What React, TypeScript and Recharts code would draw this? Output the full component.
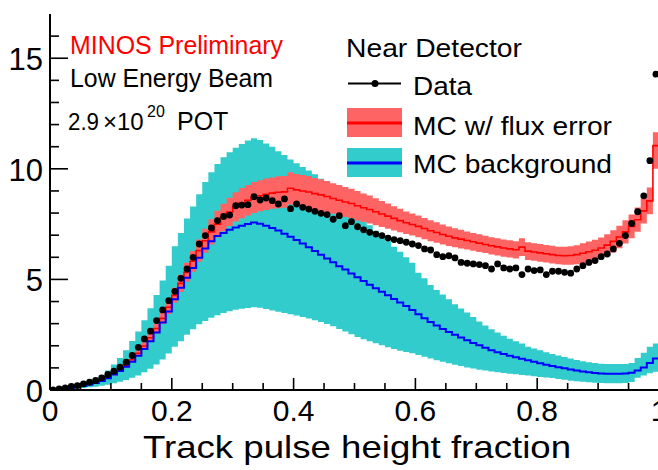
import React from 'react';
import { ComposedChart, Area, Line, Scatter, XAxis, YAxis } from 'recharts';

const FONT = '"Liberation Sans", Arial, Helvetica, sans-serif';

// histogram: 100 bins of width 0.01 on [0,1]
const binWidth = 0.01;

const dataCounts = [
  0.01, 0.05, 0.10, 0.16, 0.20, 0.28, 0.35, 0.43, 0.55, 0.70,
  0.85, 1.03, 1.26, 1.56, 1.93, 2.31, 2.66, 3.14, 3.62, 4.04,
  4.46, 5.05, 5.47, 6.00, 6.60, 6.98, 7.33, 7.66, 7.85, 7.91,
  8.33, 8.36, 8.38, 8.74, 8.59, 8.68, 8.56, 8.41, 8.64, 8.20,
  8.41, 8.26, 8.18, 8.08, 7.99, 7.93, 7.72, 7.88, 7.43, 7.61,
  7.38, 7.24, 7.13, 7.05, 6.98, 6.87, 6.80, 6.75, 6.68, 6.60,
  6.53, 6.38, 6.33, 6.12, 6.03, 6.07, 5.97, 5.77, 5.73, 5.70,
  5.67, 5.62, 5.47, 5.70, 5.52, 5.47, 5.52, 5.22, 5.47, 5.40,
  5.43, 5.22, 5.37, 5.37, 5.32, 5.28, 5.47, 5.62, 5.77, 5.85,
  6.03, 6.15, 6.38, 6.63, 6.98, 7.53, 8.06, 8.78, 10.37, 14.28,
];

const mcCentral = [
  0.02, 0.04, 0.07, 0.11, 0.15, 0.21, 0.28, 0.36, 0.46, 0.58,
  0.73, 0.91, 1.12, 1.37, 1.66, 1.99, 2.36, 2.78, 3.24, 3.74,
  4.28, 4.82, 5.32, 5.82, 6.30, 6.75, 7.15, 7.50, 7.80, 8.05,
  8.28, 8.45, 8.58, 8.70, 8.78, 8.85, 8.90, 8.94, 8.96, 9.12,
  9.05, 9.00, 8.95, 8.88, 8.82, 8.75, 8.66, 8.58, 8.50, 8.43,
  8.33, 8.24, 8.16, 8.06, 7.96, 7.86, 7.76, 7.66, 7.56, 7.48,
  7.40, 7.30, 7.20, 7.12, 7.03, 6.95, 6.88, 6.82, 6.76, 6.70,
  6.64, 6.58, 6.52, 6.47, 6.42, 6.38, 6.34, 6.46, 6.28, 6.24,
  6.20, 6.16, 6.12, 6.08, 6.07, 6.08, 6.12, 6.18, 6.25, 6.32,
  6.42, 6.55, 6.72, 6.92, 7.15, 7.40, 7.70, 8.10, 8.55, 11.05,
];

const mcLow = [
  0.02, 0.04, 0.06, 0.10, 0.14, 0.19, 0.26, 0.33, 0.42, 0.53,
  0.67, 0.84, 1.03, 1.26, 1.53, 1.83, 2.17, 2.56, 2.98, 3.44,
  3.94, 4.43, 4.89, 5.35, 5.80, 6.21, 6.58, 6.90, 7.18, 7.41,
  7.62, 7.77, 7.89, 8.00, 8.08, 8.14, 8.19, 8.22, 8.24, 8.39,
  8.33, 8.28, 8.23, 8.17, 8.11, 8.05, 7.97, 7.89, 7.82, 7.76,
  7.66, 7.60, 7.53, 7.45, 7.37, 7.29, 7.21, 7.13, 7.05, 6.98,
  6.91, 6.82, 6.73, 6.66, 6.58, 6.51, 6.45, 6.40, 6.35, 6.30,
  6.24, 6.19, 6.13, 6.08, 6.03, 5.99, 5.95, 6.06, 5.88, 5.84,
  5.80, 5.76, 5.72, 5.68, 5.66, 5.66, 5.69, 5.73, 5.79, 5.85,
  5.94, 6.06, 6.22, 6.41, 6.62, 6.86, 7.15, 7.53, 7.95, 10.00,
];

const mcHigh = [
  0.02, 0.04, 0.08, 0.12, 0.16, 0.23, 0.30, 0.39, 0.50, 0.63,
  0.79, 0.98, 1.21, 1.48, 1.79, 2.15, 2.55, 3.00, 3.50, 4.04,
  4.62, 5.21, 5.75, 6.29, 6.80, 7.29, 7.72, 8.10, 8.42, 8.69,
  8.94, 9.13, 9.27, 9.40, 9.48, 9.56, 9.61, 9.66, 9.68, 9.85,
  9.77, 9.72, 9.67, 9.59, 9.53, 9.45, 9.35, 9.27, 9.18, 9.10,
  9.00, 8.88, 8.79, 8.67, 8.55, 8.43, 8.31, 8.19, 8.07, 7.98,
  7.89, 7.78, 7.67, 7.58, 7.48, 7.39, 7.31, 7.24, 7.17, 7.10,
  7.04, 6.97, 6.91, 6.86, 6.81, 6.77, 6.73, 6.86, 6.68, 6.64,
  6.60, 6.56, 6.52, 6.48, 6.48, 6.50, 6.55, 6.63, 6.71, 6.79,
  6.90, 7.04, 7.22, 7.43, 7.68, 7.94, 8.25, 8.67, 9.15, 11.65,
];

const bgCentral = [
  0.02, 0.04, 0.07, 0.10, 0.14, 0.19, 0.25, 0.32, 0.41, 0.53,
  0.70, 0.86, 1.05, 1.28, 1.55, 1.85, 2.20, 2.60, 3.05, 3.55,
  4.10, 4.62, 5.08, 5.52, 5.98, 6.40, 6.72, 6.96, 7.10, 7.24,
  7.35, 7.43, 7.50, 7.57, 7.52, 7.43, 7.33, 7.21, 7.07, 6.93,
  6.78, 6.62, 6.45, 6.28, 6.12, 5.95, 5.78, 5.60, 5.45, 5.27,
  5.10, 4.93, 4.76, 4.60, 4.44, 4.28, 4.12, 3.96, 3.80, 3.62,
  3.42, 3.24, 3.07, 2.92, 2.76, 2.62, 2.50, 2.37, 2.25, 2.13,
  2.02, 1.91, 1.80, 1.71, 1.63, 1.55, 1.48, 1.41, 1.35, 1.28,
  1.21, 1.14, 1.08, 1.03, 0.98, 0.93, 0.88, 0.84, 0.80, 0.77,
  0.75, 0.74, 0.73, 0.74, 0.75, 0.78, 0.88, 1.02, 1.22, 1.42,
];

const bgLow = [
  0.01, 0.02, 0.03, 0.05, 0.07, 0.09, 0.12, 0.15, 0.19, 0.24,
  0.30, 0.37, 0.45, 0.55, 0.66, 0.80, 0.96, 1.15, 1.38, 1.65,
  1.95, 2.20, 2.50, 2.75, 2.97, 3.12, 3.27, 3.38, 3.48, 3.56,
  3.63, 3.67, 3.71, 3.74, 3.72, 3.66, 3.60, 3.54, 3.48, 3.43,
  3.37, 3.30, 3.23, 3.15, 3.07, 2.98, 2.88, 2.76, 2.64, 2.52,
  2.40, 2.30, 2.20, 2.11, 2.02, 1.93, 1.85, 1.78, 1.72, 1.66,
  1.58, 1.50, 1.42, 1.35, 1.28, 1.21, 1.14, 1.08, 1.02, 0.97,
  0.92, 0.88, 0.84, 0.80, 0.77, 0.74, 0.71, 0.68, 0.65, 0.62,
  0.59, 0.57, 0.54, 0.50, 0.46, 0.42, 0.39, 0.37, 0.35, 0.33,
  0.32, 0.31, 0.31, 0.31, 0.32, 0.36, 0.55, 0.66, 0.76, 0.82,
];

const bgHigh = [
  0.03, 0.06, 0.11, 0.16, 0.22, 0.30, 0.40, 0.52, 0.68, 0.88,
  1.15, 1.45, 1.80, 2.22, 2.65, 3.15, 3.70, 4.30, 4.95, 5.62,
  6.50, 7.10, 7.75, 8.30, 8.85, 9.40, 9.85, 10.22, 10.52, 10.75,
  10.95, 11.12, 11.28, 11.38, 11.30, 11.15, 11.00, 10.80, 10.62, 10.42,
  10.25, 10.08, 9.92, 9.75, 9.55, 9.30, 9.05, 8.78, 8.50, 8.22,
  7.95, 7.70, 7.45, 7.20, 6.95, 6.72, 6.48, 6.25, 6.00, 5.75,
  5.30, 5.05, 4.75, 4.52, 4.32, 4.10, 3.88, 3.68, 3.50, 3.30,
  3.10, 2.92, 2.75, 2.60, 2.45, 2.32, 2.20, 2.10, 1.95, 1.88,
  1.80, 1.71, 1.63, 1.56, 1.49, 1.42, 1.36, 1.30, 1.26, 1.22,
  1.19, 1.18, 1.17, 1.17, 1.18, 1.22, 1.45, 1.68, 1.95, 2.10,
];

const xTicks = [
  0, 0.05, 0.1, 0.15, 0.2, 0.25, 0.3, 0.35, 0.4, 0.45, 0.5,
  0.55, 0.6, 0.65, 0.7, 0.75, 0.8, 0.85, 0.9, 0.95, 1,
];
const xMajorLabels: Record<string, string> = {
  '0': '0', '0.2': '0.2', '0.4': '0.4', '0.6': '0.6', '0.8': '0.8', '1': '1',
};
const yTicks = [0, 1, 2, 3, 4, 5, 6, 7, 8, 9, 10, 11, 12, 13, 14, 15, 16];
const yMajorLabels: Record<string, string> = { '0': '0', '5': '5', '10': '10', '15': '15' };

// bin-edge table for step histograms (last edge repeats last bin)
const histRows = Array.from({ length: dataCounts.length + 1 }, (_, i) => {
  const b = Math.min(i, dataCounts.length - 1);
  return {
    x: i * binWidth,
    mc: mcCentral[b],
    mcBand: [mcLow[b], mcHigh[b]],
    bg: bgCentral[b],
    bgBand: [bgLow[b], bgHigh[b]],
  };
});

const dataPoints = dataCounts.map((v, i) => ({ x: (i + 0.5) * binWidth, y: v }));

const keyOf = (v: number) => String(Math.round(v * 100) / 100);

function BottomTick(props: any) {
  const { x, y, payload } = props;
  const label = xMajorLabels[keyOf(payload.value)];
  const major = label !== undefined;
  return (
    <g>
      <line x1={x} x2={x} y1={y} y2={y - (major ? 12 : 7)} stroke="#000" strokeWidth={1.6} />
      {major && (
        <text x={x} y={y + 31} textAnchor="middle" fontFamily={FONT} fontSize={30} fill="#000">
          {label}
        </text>
      )}
    </g>
  );
}

function TopTick(props: any) {
  const { x, y, payload } = props;
  const major = xMajorLabels[keyOf(payload.value)] !== undefined;
  return <line x1={x} x2={x} y1={y} y2={y + (major ? 12 : 7)} stroke="#000" strokeWidth={1.6} />;
}

function LeftTick(props: any) {
  const { x, y, payload } = props;
  const label = yMajorLabels[keyOf(payload.value)];
  const major = label !== undefined;
  return (
    <g>
      <line x1={x} x2={x + (major ? 18 : 9)} y1={y} y2={y} stroke="#000" strokeWidth={1.6} />
      {major && (
        <text x={x - 7} y={y + 12} textAnchor="end" fontFamily={FONT} fontSize={31} fill="#000">
          {label}
        </text>
      )}
    </g>
  );
}

function RightTick(props: any) {
  const { x, y, payload } = props;
  const major = yMajorLabels[keyOf(payload.value)] !== undefined;
  return <line x1={x} x2={x - (major ? 18 : 9)} y1={y} y2={y} stroke="#000" strokeWidth={1.6} />;
}

const DataDot = (p: any) => <circle cx={p.cx} cy={p.cy} r={3.4} fill="#000" />;

const axisLine = { stroke: '#000', strokeWidth: 2 };

export default function App() {
  return (
    <div
      style={{
        position: 'absolute',
        left: 0,
        top: 0,
        width: 658,
        height: 470,
        overflow: 'hidden',
        background: '#fff',
      }}
    >
      <ComposedChart
        width={660}
        height={470}
        data={histRows}
        margin={{ top: 14, right: 1, bottom: 0, left: 0 }}
      >
        <XAxis
          xAxisId="b"
          dataKey="x"
          type="number"
          domain={[0, 1]}
          ticks={xTicks}
          interval={0}
          height={80}
          axisLine={axisLine}
          tickLine={false}
          tickSize={0}
          tickMargin={0}
          tick={<BottomTick />}
          allowDataOverflow
        />
        <XAxis
          xAxisId="t"
          orientation="top"
          dataKey="x"
          type="number"
          domain={[0, 1]}
          ticks={xTicks}
          interval={0}
          height={0}
          axisLine={axisLine}
          tickLine={false}
          tickSize={0}
          tickMargin={0}
          tick={<TopTick />}
          allowDataOverflow
        />
        <YAxis
          yAxisId="l"
          type="number"
          domain={[0, 17]}
          ticks={yTicks}
          interval={0}
          width={50}
          axisLine={axisLine}
          tickLine={false}
          tickSize={0}
          tickMargin={0}
          tick={<LeftTick />}
          allowDataOverflow
        />
        <YAxis
          yAxisId="r"
          orientation="right"
          type="number"
          domain={[0, 17]}
          ticks={yTicks}
          interval={0}
          width={0}
          axisLine={axisLine}
          tickLine={false}
          tickSize={0}
          tickMargin={0}
          tick={<RightTick />}
          allowDataOverflow
        />
        <Area
          xAxisId="b"
          yAxisId="l"
          dataKey="bgBand"
          type="stepAfter"
          fill="#33CCCC"
          fillOpacity={1}
          stroke="none"
          isAnimationActive={false}
        />
        <Area
          xAxisId="b"
          yAxisId="l"
          dataKey="mcBand"
          type="stepAfter"
          fill="#FF6464"
          fillOpacity={1}
          stroke="none"
          isAnimationActive={false}
        />
        <Line
          xAxisId="b"
          yAxisId="l"
          dataKey="mc"
          type="stepAfter"
          stroke="#FF0000"
          strokeWidth={1.6}
          dot={false}
          isAnimationActive={false}
        />
        <Line
          xAxisId="b"
          yAxisId="l"
          dataKey="bg"
          type="stepAfter"
          stroke="#0000FF"
          strokeWidth={2}
          dot={false}
          isAnimationActive={false}
        />
        <Scatter
          xAxisId="b"
          yAxisId="l"
          data={dataPoints}
          dataKey="y"
          fill="#000"
          shape={DataDot}
          isAnimationActive={false}
        />
      </ComposedChart>

      <svg
        width={658}
        height={470}
        style={{ position: 'absolute', left: 0, top: 0, pointerEvents: 'none' }}
        fontFamily={FONT}
      >
        <text x={70} y={54} fontSize={25} fill="#FF0000" textLength={213} lengthAdjust="spacingAndGlyphs">
          MINOS Preliminary
        </text>
        <text x={70} y={87} fontSize={25} fill="#000" textLength={203} lengthAdjust="spacingAndGlyphs">
          Low Energy Beam
        </text>

        <text x={68} y={129.5} fontSize={24} fill="#000" textLength={31} lengthAdjust="spacingAndGlyphs">
          2.9
        </text>
        <text x={103} y={129.5} fontSize={24} fill="#000">
          ×10
        </text>
        <text x={147} y={117} fontSize={16} fill="#000">
          20
        </text>
        <text x={177} y={129.5} fontSize={25} fill="#000">
          POT
        </text>

        <text x={346} y={57} fontSize={25} fill="#000" textLength={176} lengthAdjust="spacingAndGlyphs">
          Near Detector
        </text>

        <line x1={348} x2={401} y1={83.5} y2={83.5} stroke="#000" strokeWidth={2} />
        <circle cx={375} cy={83.5} r={3.5} fill="#000" />
        <text x={413} y={95} fontSize={25} fill="#000" textLength={59} lengthAdjust="spacingAndGlyphs">
          Data
        </text>

        <rect x={347} y={108} width={55} height={29} fill="#FF6464" />
        <line x1={347} x2={402} y1={123} y2={123} stroke="#FF0000" strokeWidth={3} />
        <text x={413} y={135} fontSize={25} fill="#000" textLength={199} lengthAdjust="spacingAndGlyphs">
          MC w/ flux error
        </text>

        <rect x={347} y={148} width={55} height={29} fill="#33CCCC" />
        <line x1={347} x2={402} y1={163} y2={163} stroke="#0000FF" strokeWidth={3} />
        <text x={413} y={173} fontSize={25} fill="#000" textLength={199} lengthAdjust="spacingAndGlyphs">
          MC background
        </text>

        <text x={143} y={458} fontSize={32} fill="#000" textLength={428} lengthAdjust="spacingAndGlyphs">
          Track pulse height fraction
        </text>
      </svg>
    </div>
  );
}
